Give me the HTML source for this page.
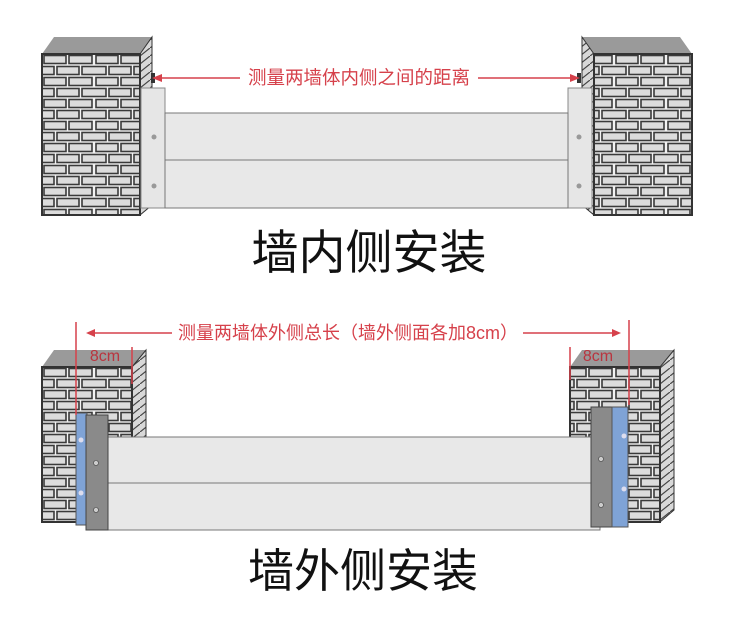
<!DOCTYPE html>
<html><head><meta charset="utf-8"><style>
html,body{margin:0;padding:0;background:#fff;}
svg{display:block;}
text{font-family:"Liberation Sans","Noto Sans CJK SC",sans-serif;}
</style></head><body>
<svg width="750" height="631" viewBox="0 0 750 631" xmlns="http://www.w3.org/2000/svg">
<defs>
<pattern id="br" width="52" height="22" patternUnits="userSpaceOnUse" x="42" y="54">
<rect width="52" height="22" fill="#f2f2f2"/>
<g fill="#dcdcdc" stroke="#3a3a3a" stroke-width="1.6">
<rect x="2" y="1.5" width="22" height="8"/>
<rect x="27" y="1.5" width="23" height="8"/>
<rect x="-10" y="12.5" width="22" height="8"/>
<rect x="15" y="12.5" width="22" height="8"/>
<rect x="40" y="12.5" width="22" height="8"/>
</g>
</pattern>
<pattern id="br2" width="52" height="22" patternUnits="userSpaceOnUse" x="42" y="367">
<rect width="52" height="22" fill="#f2f2f2"/>
<g fill="#dcdcdc" stroke="#3a3a3a" stroke-width="1.6">
<rect x="2" y="1.5" width="22" height="8"/>
<rect x="27" y="1.5" width="23" height="8"/>
<rect x="-10" y="12.5" width="22" height="8"/>
<rect x="15" y="12.5" width="22" height="8"/>
<rect x="40" y="12.5" width="22" height="8"/>
</g>
</pattern>
<pattern id="sd" width="10" height="8" patternUnits="userSpaceOnUse">
<rect width="10" height="8" fill="#d8d8d8"/>
<path d="M0 8 L10 0" stroke="#444" stroke-width="1.2"/>
</pattern>
</defs>

<!-- TOP SECTION -->
<polygon points="42,54 54,37 152,37 140,54" fill="#9a9a9a"/>
<polygon points="140,54 152,37 152,205 140,215" fill="url(#sd)" stroke="#333"/>
<rect x="42" y="54" width="98" height="161" fill="url(#br)" stroke="#333" stroke-width="2"/>
<polygon points="582,37 680,37 692,54 594,54" fill="#9a9a9a"/>
<polygon points="582,37 594,54 594,215 582,205" fill="url(#sd)" stroke="#333"/>
<rect x="594" y="54" width="98" height="161" fill="url(#br)" stroke="#333" stroke-width="2"/>
<rect x="141" y="88" width="24" height="120" fill="#e6e6e6" stroke="#888"/>
<rect x="568" y="88" width="24" height="120" fill="#e6e6e6" stroke="#888"/>
<circle cx="154" cy="137" r="2.5" fill="#999"/><circle cx="154" cy="186" r="2.5" fill="#999"/>
<circle cx="579" cy="137" r="2.5" fill="#999"/><circle cx="579" cy="186" r="2.5" fill="#999"/>
<rect x="165" y="113" width="403" height="47" fill="#e8e8e8" stroke="#777"/>
<rect x="165" y="160" width="403" height="48" fill="#e8e8e8" stroke="#777"/>
<rect x="151" y="73" width="4" height="10" fill="#333"/>
<rect x="577" y="73" width="4" height="10" fill="#333"/>
<line x1="156" y1="78" x2="240" y2="78" stroke="#d6414b" stroke-width="1.5"/>
<line x1="478" y1="78" x2="576" y2="78" stroke="#d6414b" stroke-width="1.5"/>
<polygon points="152,78 162,74 162,82" fill="#d6414b"/>
<polygon points="580,78 570,74 570,82" fill="#d6414b"/>
<text x="359" y="84" font-size="18.5" fill="#d6414b" text-anchor="middle">测量两墙体内侧之间的距离</text>
<text x="369" y="269" font-size="47" fill="#111" text-anchor="middle">墙内侧安装</text>

<!-- BOTTOM SECTION -->
<polygon points="42,367 54,350 146,350 132,367" fill="#9a9a9a"/>
<polygon points="132,367 146,350 146,437 132,437" fill="url(#sd)" stroke="#333"/>
<rect x="42" y="367" width="90" height="155" fill="url(#br2)" stroke="#333" stroke-width="2"/>
<polygon points="570,367 582,350 674,350 660,367" fill="#9a9a9a"/>
<polygon points="660,367 674,350 674,510 660,522" fill="url(#sd)" stroke="#333"/>
<rect x="570" y="367" width="90" height="155" fill="url(#br2)" stroke="#333" stroke-width="2"/>
<rect x="108" y="437" width="492" height="46" fill="#e8e8e8" stroke="#777"/>
<rect x="108" y="483" width="492" height="47" fill="#e8e8e8" stroke="#777"/>
<rect x="76" y="413" width="11" height="112" fill="#7fa3d6" stroke="#555"/>
<circle cx="81" cy="440" r="2.5" fill="#dde"/><circle cx="81" cy="493" r="2.5" fill="#dde"/>
<rect x="86" y="415" width="22" height="115" fill="#8a8a8a" stroke="#444"/>
<circle cx="96" cy="463" r="2.5" fill="#ccc" stroke="#444" stroke-width="0.6"/><circle cx="96" cy="510" r="2.5" fill="#ccc" stroke="#444" stroke-width="0.6"/>
<rect x="591" y="407" width="21" height="120" fill="#8a8a8a" stroke="#444"/>
<circle cx="601" cy="459" r="2.5" fill="#ccc" stroke="#444" stroke-width="0.6"/><circle cx="601" cy="505" r="2.5" fill="#ccc" stroke="#444" stroke-width="0.6"/>
<rect x="612" y="407" width="16" height="120" fill="#7fa3d6" stroke="#555"/>
<circle cx="624" cy="436" r="2.5" fill="#dde"/><circle cx="624" cy="489" r="2.5" fill="#dde"/>
<line x1="76" y1="322" x2="76" y2="415" stroke="#d6414b" stroke-width="1.5"/>
<line x1="132" y1="347" x2="132" y2="384" stroke="#d6414b" stroke-width="1.5"/>
<line x1="629" y1="320" x2="629" y2="405" stroke="#d6414b" stroke-width="1.5"/>
<line x1="570" y1="347" x2="570" y2="380" stroke="#d6414b" stroke-width="1.5"/>
<line x1="88" y1="333" x2="172" y2="333" stroke="#d6414b" stroke-width="1.5"/>
<line x1="523" y1="333" x2="618" y2="333" stroke="#d6414b" stroke-width="1.5"/>
<polygon points="86,333 95,329 95,337" fill="#d6414b"/>
<polygon points="621,333 612,329 612,337" fill="#d6414b"/>
<text x="348" y="339" font-size="18" fill="#d6414b" text-anchor="middle" textLength="340" lengthAdjust="spacingAndGlyphs">测量两墙体外侧总长（墙外侧面各加8cm）</text>
<text x="105" y="361" font-size="16" fill="#b9353f" text-anchor="middle">8cm</text>
<text x="598" y="361" font-size="16" fill="#b9353f" text-anchor="middle">8cm</text>
<text x="363" y="587" font-size="46" fill="#111" text-anchor="middle">墙外侧安装</text>
</svg>
</body></html>
